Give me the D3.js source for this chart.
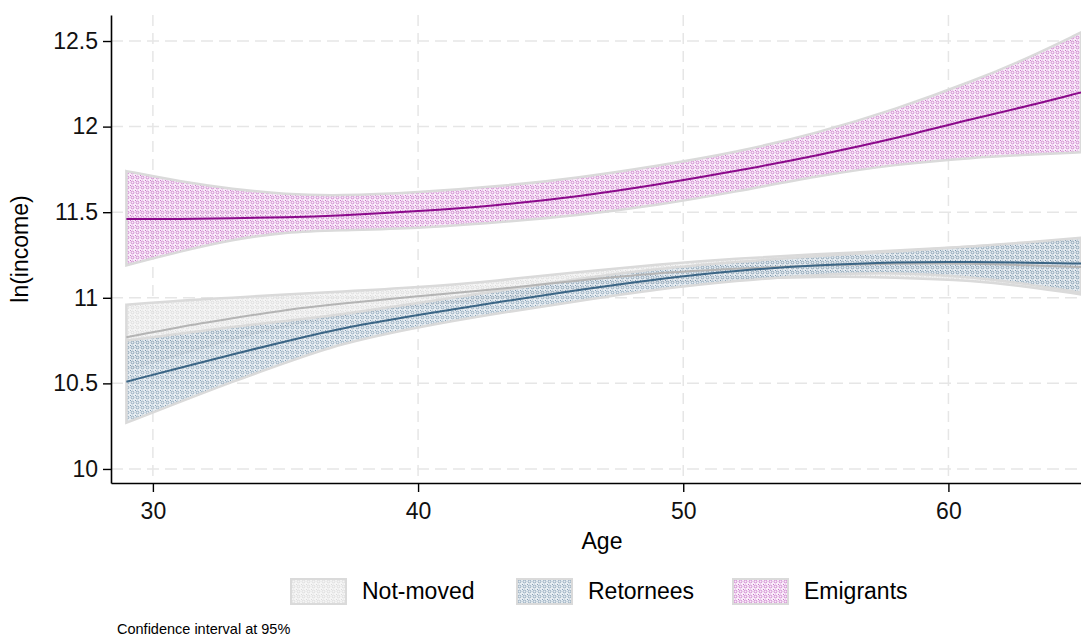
<!DOCTYPE html>
<html>
<head>
<meta charset="utf-8">
<script src="https://cdn.jsdelivr.net/npm/d3@7"></script>
<style>
    body { margin: 0; background: #fff; }
    svg { display: block; font-family: "Liberation Sans", Arial, sans-serif; }
</style>
</head>
<body>
<div id="chart"></div>
<script>
// ages where the fitted curves were read
let ages = [29, 31, 33, 35, 37, 40, 43, 46, 49, 52, 55, 58, 61, 63, 65];

let notMovedMean = [10.77, 10.83, 10.88, 10.93, 10.965, 11.01, 11.05, 11.10, 11.145, 11.17, 11.19, 11.20, 11.20, 11.19, 11.18];
let notMovedHigh = [10.96, 10.985, 11.0, 11.02, 11.035, 11.06, 11.10, 11.15, 11.195, 11.23, 11.255, 11.275, 11.30, 11.32, 11.34];
let notMovedLow = [10.58, 10.67, 10.76, 10.84, 10.895, 10.96, 11.0, 11.05, 11.095, 11.11, 11.125, 11.12, 11.10, 11.065, 11.02];

let retorneesMean = [10.51, 10.59, 10.67, 10.745, 10.82, 10.90, 10.975, 11.045, 11.11, 11.16, 11.19, 11.21, 11.21, 11.205, 11.20];
let retorneesHigh = [10.75, 10.79, 10.83, 10.865, 10.90, 10.97, 11.04, 11.11, 11.17, 11.21, 11.245, 11.27, 11.30, 11.325, 11.35];
let retorneesLow = [10.27, 10.39, 10.51, 10.62, 10.73, 10.83, 10.91, 10.98, 11.05, 11.10, 11.135, 11.15, 11.12, 11.08, 11.03];

let emigrantsMean = [11.46, 11.46, 11.465, 11.47, 11.48, 11.505, 11.54, 11.59, 11.66, 11.74, 11.83, 11.93, 12.05, 12.12, 12.20];
let emigrantsHigh = [11.74, 11.68, 11.635, 11.605, 11.595, 11.615, 11.65, 11.70, 11.77, 11.85, 11.96, 12.10, 12.27, 12.40, 12.55];
let emigrantsLow = [11.19, 11.27, 11.34, 11.385, 11.395, 11.405, 11.44, 11.48, 11.54, 11.62, 11.71, 11.78, 11.82, 11.835, 11.85];

let xTicks = [30, 40, 50, 60];
let yTicks = [10, 10.5, 11, 11.5, 12, 12.5];
let yTickLabels = ['10', '10.5', '11', '11.5', '12', '12.5'];
let groupNames = ['Not-moved', 'Retornees', 'Emigrants'];

let W = 1081, H = 639;
let svg = d3.select('#chart').append('svg').attr('width', W).attr('height', H);

let xScale = d3.scaleLinear().domain([28.42, 65]).range([111, 1081]);
let yScale = d3.scaleLinear().domain([9.918, 12.652]).range([483, 15]);

// patterns for the bands
let styles = [
    {id: 'patGray', bg: '#f1f1f1', dot: '#cdcdcd', line: '#b4b4b4'},
    {id: 'patBlue', bg: '#dfe7ee', dot: '#5d7f9b', line: '#3b6585'},
    {id: 'patPurple', bg: '#f7e4f7', dot: '#b44ab4', line: '#8b0a8b'}
];
let defs = svg.append('defs');
styles.forEach(s => {
    let p = defs.append('pattern')
        .attr('id', s.id)
        .attr('patternUnits', 'userSpaceOnUse')
        .attr('width', 5).attr('height', 5);
    p.append('rect').attr('width', 5).attr('height', 5).attr('fill', s.bg);
    p.append('circle').attr('cx', 2.5).attr('cy', 2.5).attr('r', 1.4)
        .attr('fill', 'none').attr('stroke', s.dot).attr('stroke-width', 0.8);
    p.append('rect').attr('x', 0).attr('y', 0).attr('width', 1).attr('height', 1).attr('fill', s.dot);
});

//grid
let grid = svg.append('g');
grid.selectAll('line.hg')
    .data(yTicks)
    .enter()
    .append('line')
    .attr('x1', 111).attr('x2', W)
    .attr('y1', d => yScale(d)).attr('y2', d => yScale(d))
    .attr('stroke', '#e6e6e6').attr('stroke-width', 1.5)
    .attr('stroke-dasharray', '12,6');
grid.selectAll('line.vg')
    .data(xTicks)
    .enter()
    .append('line')
    .attr('y1', 15).attr('y2', 483)
    .attr('x1', d => xScale(d)).attr('x2', d => xScale(d))
    .attr('stroke', '#e6e6e6').attr('stroke-width', 1.5)
    .attr('stroke-dasharray', '11,7');

let series = [
    {mean: notMovedMean, high: notMovedHigh, low: notMovedLow},
    {mean: retorneesMean, high: retorneesHigh, low: retorneesLow},
    {mean: emigrantsMean, high: emigrantsHigh, low: emigrantsLow}
];

let area = d3.area()
    .x(d => xScale(d.age))
    .y0(d => yScale(d.low))
    .y1(d => yScale(d.high))
    .curve(d3.curveBasis);
let line = d3.line()
    .x(d => xScale(d.age))
    .y(d => yScale(d.mean))
    .curve(d3.curveBasis);

let rows = series.map(s => ages.map((a, i) => ({age: a, mean: s.mean[i], high: s.high[i], low: s.low[i]})));

let plot = svg.append('g');
plot.selectAll('path.band')
    .data(rows)
    .enter()
    .append('path')
    .attr('class', 'band')
    .attr('d', area)
    .attr('fill', (d, i) => 'url(#' + styles[i].id + ')')
    .attr('fill-opacity', 0.75)
    .attr('stroke', '#dadada')
    .attr('stroke-width', 2.5);
plot.selectAll('path.fit')
    .data(rows)
    .enter()
    .append('path')
    .attr('class', 'fit')
    .attr('d', line)
    .attr('fill', 'none')
    .attr('stroke', (d, i) => styles[i].line)
    .attr('stroke-width', 2);

//axes
let yAxis = svg.append('g')
    .attr('transform', 'translate(111,0)')
    .call(d3.axisLeft(yScale).tickValues(yTicks).tickSize(8).tickSizeOuter(0)
        .tickFormat((d, i) => yTickLabels[i]));
let xAxis = svg.append('g')
    .attr('transform', 'translate(0,483)')
    .call(d3.axisBottom(xScale).tickValues(xTicks).tickSize(9).tickSizeOuter(0));
[xAxis, yAxis].forEach(a => {
    a.select('.domain').attr('stroke', '#000').attr('stroke-width', 1.6);
    a.selectAll('.tick line').attr('stroke', '#000').attr('stroke-width', 1.4);
    a.selectAll('.tick text').attr('font-size', 23).attr('fill', '#111')
        .attr('font-family', '"Liberation Sans", Arial, sans-serif');
});
yAxis.selectAll('.tick text').attr('x', -13);
xAxis.selectAll('.tick text').attr('y', 20);

svg.append('text')
    .attr('x', 602).attr('y', 549)
    .attr('text-anchor', 'middle')
    .attr('font-size', 23)
    .text('Age');
svg.append('text')
    .attr('transform', 'translate(28,249) rotate(-90)')
    .attr('text-anchor', 'middle')
    .attr('font-size', 23)
    .text('ln(income)');

//legend
let legendX = [291, 517, 733];
let legend = svg.append('g').selectAll('g')
    .data(groupNames)
    .enter()
    .append('g')
    .attr('transform', (d, i) => 'translate(' + legendX[i] + ',579)');
legend.append('rect')
    .attr('width', 55).attr('height', 25)
    .attr('fill', (d, i) => 'url(#' + styles[i].id + ')')
    .attr('fill-opacity', 0.75)
    .attr('stroke', '#dadada').attr('stroke-width', 2);
legend.append('text')
    .attr('x', 71).attr('y', 20)
    .attr('font-size', 23)
    .text(d => d);

svg.append('text')
    .attr('x', 117).attr('y', 634)
    .attr('font-size', 14.5)
    .text('Confidence interval at 95%');
</script>
</body>
</html>
